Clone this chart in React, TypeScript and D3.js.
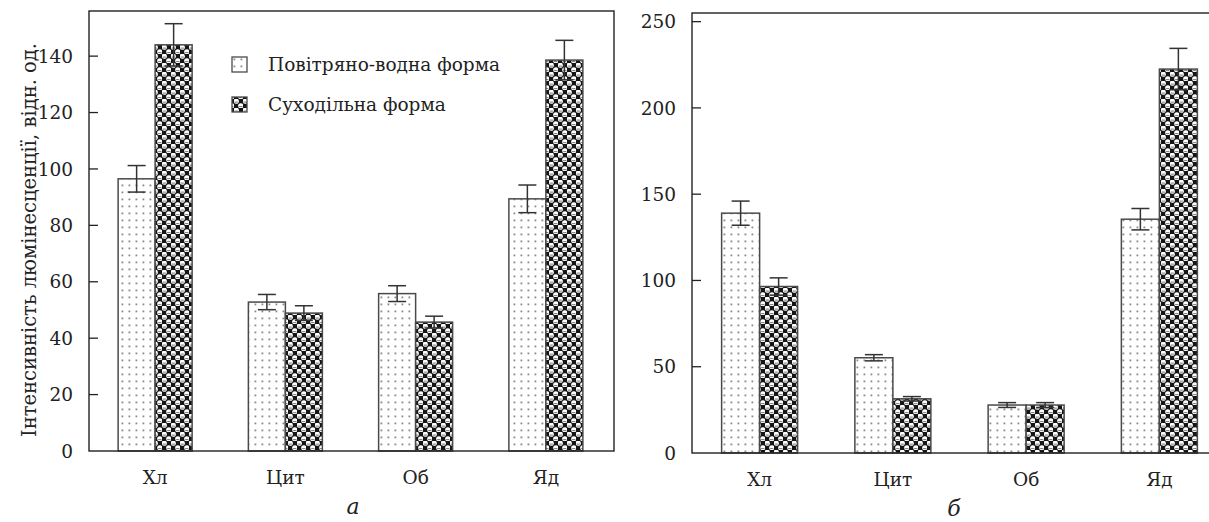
import React from 'react';
import * as d3 from 'd3';

const categories = ['Хл', 'Цит', 'Об', 'Яд'];
const seriesNames = ['Повітряно-водна форма', 'Суходільна форма'];

const aAir = [96.5, 52.8, 55.8, 89.4];
const aAirErr = [4.7, 2.7, 2.8, 4.9];
const aLand = [144, 48.9, 45.7, 138.6];
const aLandErr = [7.5, 2.6, 2.1, 7];

const bAir = [139, 55.2, 27.8, 135.5];
const bAirErr = [7, 1.8, 1.4, 6.2];
const bLand = [96.5, 31.4, 27.8, 222.5];
const bLandErr = [5, 1.3, 1.4, 12];

const ticksA = [0, 20, 40, 60, 80, 100, 120, 140];
const ticksB = [0, 50, 100, 150, 200, 250];

const FONT = "'DejaVu Serif', serif";
const txt = { fontFamily: FONT };

type PanelProps = {
  x0: number; x1: number; frameRight: number; top: number; bottom: number;
  yMax: number; ticks: number[]; air: number[]; airErr: number[]; land: number[]; landErr: number[];
  barW: number; letter: string; letterX: number;
};

function Panel(p: PanelProps) {
  const x = d3.scaleBand<string>().domain(categories).range([p.x0, p.x1]).padding(0);
  const y = d3.scaleLinear().domain([0, p.yMax]).range([p.bottom, p.top]);
  const left = p.x0 - 1;
  const bars: React.ReactNode[] = [];
  categories.forEach((c, i) => {
    const cx = (x(c) as number) + x.bandwidth() / 2;
    const specs = [
      { v: p.air[i], e: p.airErr[i], fill: 'url(#dots)', bx: cx - p.barW },
      { v: p.land[i], e: p.landErr[i], fill: 'url(#checks)', bx: cx },
    ];
    specs.forEach((s, j) => {
      const mid = s.bx + p.barW / 2;
      bars.push(
        <g key={c + j}>
          <rect x={s.bx} y={y(s.v)} width={p.barW} height={y(0) - y(s.v)} fill={s.fill} stroke="#4a4a4a" strokeWidth={1.5} />
          <line x1={mid} x2={mid} y1={y(s.v + s.e)} y2={y(s.v - s.e)} stroke="#333" strokeWidth={1.5} />
          <line x1={mid - 9} x2={mid + 9} y1={y(s.v + s.e)} y2={y(s.v + s.e)} stroke="#333" strokeWidth={1.5} />
          <line x1={mid - 9} x2={mid + 9} y1={y(s.v - s.e)} y2={y(s.v - s.e)} stroke="#333" strokeWidth={1.5} />
        </g>
      );
    });
  });
  return (
    <g>
      {bars}
      <rect x={left} y={p.top} width={p.frameRight - left} height={p.bottom - p.top} fill="none" stroke="#222" strokeWidth={1.4} />
      {p.ticks.map((t) => (
        <g key={t}>
          {t > 0 && y(t) > p.top + 2 && (
            <line x1={left} x2={left + 9} y1={y(t)} y2={y(t)} stroke="#222" strokeWidth={1.3} />
          )}
          <text x={left - 16} y={y(t)} dy="0.36em" textAnchor="end" fontSize={18.5} style={txt} fill="#222">{t}</text>
        </g>
      ))}
      {categories.map((c) => (
        <text key={c} x={(x(c) as number) + x.bandwidth() / 2} y={p.bottom + 33} textAnchor="middle" fontSize={18.5} style={txt} fill="#222">{c}</text>
      ))}
      <text x={p.letterX} y={p.bottom + 63} textAnchor="middle" fontSize={22} fontStyle="italic" style={txt} fill="#222">{p.letter}</text>
    </g>
  );
}

export default function App() {
  return (
    <svg width={1209} height={522} style={{ position: 'absolute', left: 0, top: 0, background: '#fff' }}>
      <defs>
        <pattern id="dots" width={7} height={7} patternUnits="userSpaceOnUse">
          <rect width={7} height={7} fill="#fff" />
          <rect x={2.5} y={2.5} width={1.8} height={1.8} fill="#8a8a8a" />
        </pattern>
        <pattern id="checks" width={9} height={9} patternUnits="userSpaceOnUse">
          <rect width={9} height={9} fill="#151515" />
          <circle cx={2.25} cy={2.25} r={2.6} fill="#fff" />
          <circle cx={6.75} cy={6.75} r={2.6} fill="#fff" />
          <rect x={0.6} y={2.6} width={3.3} height={1} fill="#777" />
          <rect x={5.1} y={7.1} width={3.3} height={1} fill="#777" />
        </pattern>
      </defs>
      <Panel x0={90} x1={611} frameRight={614} top={11} bottom={451} yMax={156} ticks={ticksA}
        air={aAir} airErr={aAirErr} land={aLand} landErr={aLandErr} barW={37} letter="а" letterX={353} />
      <Panel x0={693} x1={1226} frameRight={1225} top={13} bottom={453} yMax={255} ticks={ticksB}
        air={bAir} airErr={bAirErr} land={bLand} landErr={bLandErr} barW={38} letter="б" letterX={954} />
      <text transform="translate(30,240) rotate(-90)" textAnchor="middle" dominantBaseline="middle" fontSize={19.5} style={txt} fill="#222">
        Інтенсивність люмінесценції, відн. од.
      </text>
      {seriesNames.map((s, i) => (
        <g key={s}>
          <rect x={232} y={57 + i * 40} width={15} height={15} fill={i === 0 ? 'url(#dots)' : 'url(#checks)'} stroke="#4a4a4a" strokeWidth={1.3} />
          <text x={268} y={65 + i * 40} dy="0.35em" fontSize={18.5} style={txt} fill="#222">{s}</text>
        </g>
      ))}
    </svg>
  );
}
